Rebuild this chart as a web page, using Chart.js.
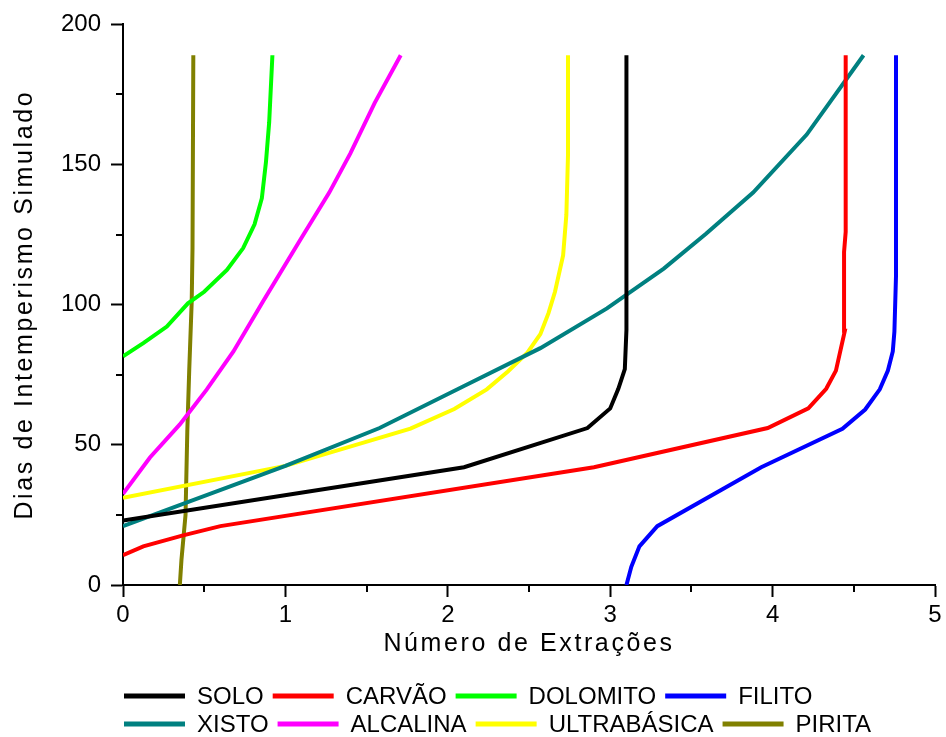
<!DOCTYPE html>
<html>
<head>
<meta charset="utf-8">
<script src="https://cdn.jsdelivr.net/npm/chart.js@4/dist/chart.umd.min.js"></script>
<style>
  html, body { margin: 0; padding: 0; background: #ffffff; }
  #wrap { width: 946px; height: 737px; }
</style>
</head>
<body>
<div id="wrap"><canvas id="chart" width="946" height="737"></canvas></div>
<script>
// Number of extractions (x) against simulated weathering days (y)
const seriesNames = ['SOLO', 'CARVÃO', 'DOLOMITO', 'FILITO', 'XISTO', 'ALCALINA', 'ULTRABÁSICA', 'PIRITA'];
const seriesColors = ['#000000', '#ff0000', '#00ff00', '#0000ff', '#008080', '#ff00ff', '#ffff00', '#808000'];

const soloX = [0, 2.10, 2.86, 3.00, 3.05, 3.09, 3.10, 3.10];
const soloY = [23, 42, 56, 63, 70, 77, 91, 189];

const carvaoX = [0, 0.125, 0.37, 0.60, 2.90, 3.97, 4.22, 4.33, 4.39, 4.445, 4.44, 4.45, 4.45];
const carvaoY = [10.6, 13.8, 17.7, 21, 42, 56, 63, 70, 76.5, 90.7, 118.8, 126, 189];

const dolomitoX = [0, 0.125, 0.27, 0.40, 0.50, 0.64, 0.74, 0.81, 0.855, 0.88, 0.90, 0.92];
const dolomitoY = [81.6, 86.3, 92.2, 100.5, 104.6, 112.4, 120.2, 128.7, 138, 150.7, 165, 189];

const filitoX = [3.10, 3.13, 3.18, 3.29, 3.93, 4.43, 4.57, 4.66, 4.71, 4.74, 4.75, 4.76, 4.76];
const filitoY = [0, 6.5, 13.8, 21, 42, 55.7, 62.6, 69.8, 76.5, 83.3, 90.4, 110.5, 189];

const xistoX = [0, 1.00, 1.58, 2.10, 2.57, 2.98, 3.33, 3.59, 3.88, 4.21, 4.56];
const xistoY = [21, 42.5, 56, 71, 84.5, 98.7, 112.9, 125.3, 140, 160.7, 189];

const alcalinaX = [0, 0.166, 0.35, 0.515, 0.68, 0.86, 1.09, 1.27, 1.40, 1.55, 1.71];
const alcalinaY = [32.5, 45.5, 57.3, 69.7, 83.3, 101, 123, 140, 154, 172, 189];

const ultrabasicaX = [0, 1.00, 1.77, 2.04, 2.24, 2.37, 2.49, 2.57, 2.62, 2.66, 2.71, 2.73, 2.74, 2.74];
const ultrabasicaY = [31.1, 42.5, 55.8, 62.8, 69.8, 76.2, 82.9, 89.5, 97, 104.6, 117.6, 132, 153, 189];

const piritaX = [0.35, 0.36, 0.385, 0.396, 0.408, 0.423, 0.428, 0.433];
const piritaY = [0, 9, 25, 55, 77, 101, 120, 189];

const seriesX = [soloX, carvaoX, dolomitoX, filitoX, xistoX, alcalinaX, ultrabasicaX, piritaX];
const seriesY = [soloY, carvaoY, dolomitoY, filitoY, xistoY, alcalinaY, ultrabasicaY, piritaY];

// Axis ranges and ticks
const xMin = 0, xMax = 5, xStep = 1;
const yMin = 0, yMax = 200, yStep = 50;
const xTitle = 'Número de Extrações';
const yTitle = 'Dias de Intemperismo Simulado';

// Legend layout: two rows of four entries
const legendRows = [[0, 1, 2, 3], [4, 5, 6, 7]];

const FONT = '"Liberation Sans", Arial, Helvetica, sans-serif';

const datasets = seriesNames.map((name, i) => ({
  label: name,
  data: seriesX[i].map((x, k) => ({ x: x, y: seriesY[i][k] })),
  borderColor: seriesColors[i],
  backgroundColor: seriesColors[i],
  borderWidth: 4,
  pointRadius: 0,
  tension: 0,
  fill: false
}));

// Half-step minor ticks, shorter than the major ones
const minorTicks = {
  id: 'minorTicks',
  afterDraw(chart) {
    const ctx = chart.ctx;
    const xs = chart.scales.x, ys = chart.scales.y;
    ctx.save();
    ctx.strokeStyle = '#000';
    ctx.lineWidth = 2;
    ctx.beginPath();
    for (let v = xMin + xStep / 2; v < xMax; v += xStep) {
      const px = Math.round(xs.getPixelForValue(v));
      ctx.moveTo(px, ys.bottom);
      ctx.lineTo(px, ys.bottom + 7);
    }
    for (let v = yMin + yStep / 2; v < yMax; v += yStep) {
      const py = Math.round(ys.getPixelForValue(v));
      ctx.moveTo(xs.left, py);
      ctx.lineTo(xs.left - 7, py);
    }
    ctx.stroke();
    ctx.restore();
  }
};

// Axis titles are drawn with wider letter spacing
const titleSpacing = {
  id: 'titleSpacing',
  beforeDraw(chart) { chart.ctx.letterSpacing = '2.6px'; },
  afterDatasetsDraw(chart) { chart.ctx.letterSpacing = '0px'; }
};

// Legend below the axis title
const bottomLegend = {
  id: 'bottomLegend',
  afterDraw(chart) {
    const ctx = chart.ctx;
    ctx.save();
    ctx.letterSpacing = '0px';
    ctx.font = '24px ' + FONT;
    ctx.textBaseline = 'middle';
    ctx.textAlign = 'left';
    const rowY = [696, 724];
    legendRows.forEach((row, r) => {
      let x = 124;
      const y = rowY[r];
      row.forEach(i => {
        const ds = chart.data.datasets[i];
        ctx.fillStyle = ds.borderColor;
        ctx.fillRect(x, y - 2.5, 61, 5);
        ctx.fillStyle = '#000';
        ctx.fillText(ds.label, x + 73, y + 1);
        x += 73 + ctx.measureText(ds.label).width + 9;
      });
    });
    ctx.restore();
  }
};

new Chart(document.getElementById('chart'), {
  type: 'line',
  data: { datasets: datasets },
  options: {
    responsive: false,
    animation: false,
    events: [],
    layout: { padding: { left: 0, top: 21, right: 11, bottom: 72 } },
    plugins: { legend: { display: false }, tooltip: { enabled: false } },
    scales: {
      x: {
        type: 'linear',
        min: xMin, max: xMax,
        afterFit(scale) { scale.height = 80; },
        border: { display: true, color: '#000', width: 2 },
        grid: { display: true, drawOnChartArea: false, drawTicks: true, tickLength: 12, tickWidth: 2, tickColor: '#000' },
        ticks: { stepSize: xStep, color: '#000', padding: 4, font: { size: 24, family: FONT }, maxRotation: 0, z: 1 },
        title: { display: true, text: xTitle, color: '#000', font: { size: 25, family: FONT }, padding: { top: 0, bottom: 6 } }
      },
      y: {
        type: 'linear',
        min: yMin, max: yMax,
        afterFit(scale) { scale.width = 123; },
        border: { display: true, color: '#000', width: 2 },
        grid: { display: true, drawOnChartArea: false, drawTicks: true, tickLength: 12, tickWidth: 2, tickColor: '#000' },
        ticks: { stepSize: yStep, color: '#000', padding: 10, font: { size: 24, family: FONT }, z: 1 },
        title: { display: true, text: yTitle, color: '#000', font: { size: 25, family: FONT }, padding: { top: 10, bottom: 0 } }
      }
    }
  },
  plugins: [minorTicks, titleSpacing, bottomLegend]
});
</script>
</body>
</html>
